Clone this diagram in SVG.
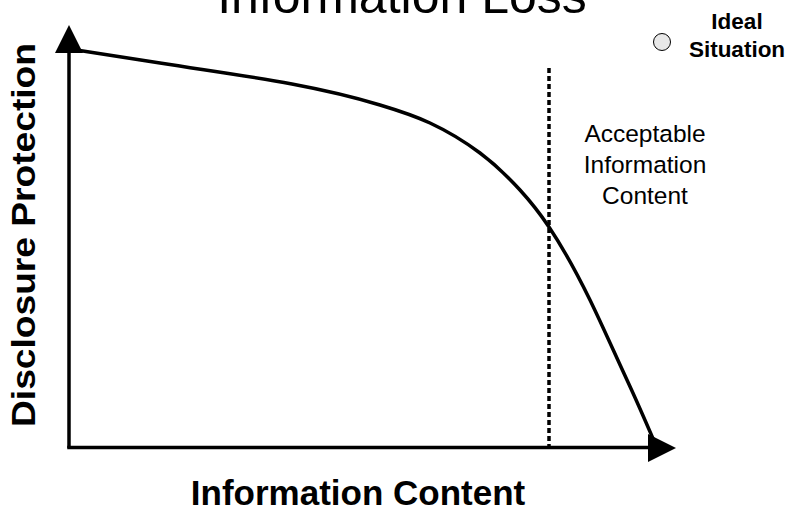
<svg xmlns="http://www.w3.org/2000/svg" width="793" height="510" viewBox="0 0 793 510">
<style>
text{font-family:"Liberation Sans",Arial,sans-serif;fill:#000}
.b{font-weight:bold}
.axis{stroke:#000;stroke-width:3.5;fill:none}
.curve{stroke:#000;stroke-width:3.5;fill:none;stroke-linejoin:round}
.dot{stroke:#000;stroke-width:3.5;stroke-dasharray:5 3;fill:none}
.head{fill:#000}
</style>
<rect width="793" height="510" fill="#fff"/>
<text id="title" x="402" y="13" font-size="50" text-anchor="middle">Information Loss</text>
<g id="connectors">
<line class="axis" x1="69" y1="448" x2="69" y2="50"/>
<polygon class="head" points="69,25 55,53 83,53"/>
<line class="axis" x1="67.25" y1="447.5" x2="650" y2="447.5"/>
<path class="curve" d="M70,49 C100,53.5 130,58.2 160,63 C233.3,74.7 306.7,83 380,105 C396.7,110 413.3,115.2 430,123 C446.7,130.8 463.3,140.5 480,153 C493.3,163 506.7,175.3 520,190 C529.7,200.6 539.3,212.5 549,227 C562.7,247.5 576.3,272 590,300 C602.3,325.3 614.7,353.5 627,380 C636.3,400 645,420 654,441"/>
<polygon class="head" points="676,448 648,434 648,462"/>
<line class="dot" x1="549" y1="68" x2="549" y2="446"/>
</g>
<g id="ideal">
<circle cx="662" cy="42" r="8.5" fill="#e8e8e8" stroke="#000" stroke-width="1"/>
<text class="b" x="737" y="29" font-size="22.5" text-anchor="middle">Ideal</text>
<text class="b" x="737" y="57" font-size="22.5" text-anchor="middle">Situation</text>
</g>
<g id="acceptable">
<text x="645" y="142" font-size="24.5" text-anchor="middle">Acceptable</text>
<text x="645" y="173" font-size="24.5" text-anchor="middle">Information</text>
<text x="645" y="204" font-size="24.5" text-anchor="middle">Content</text>
</g>
<g id="xlabel">
<text class="b" x="358" y="505" font-size="35" text-anchor="middle">Information Content</text>
</g>
<g id="ylabel">
<text class="b" transform="translate(35,427) rotate(-90)" font-size="32.5" textLength="384" lengthAdjust="spacingAndGlyphs">Disclosure Protection</text>
</g>
</svg>
